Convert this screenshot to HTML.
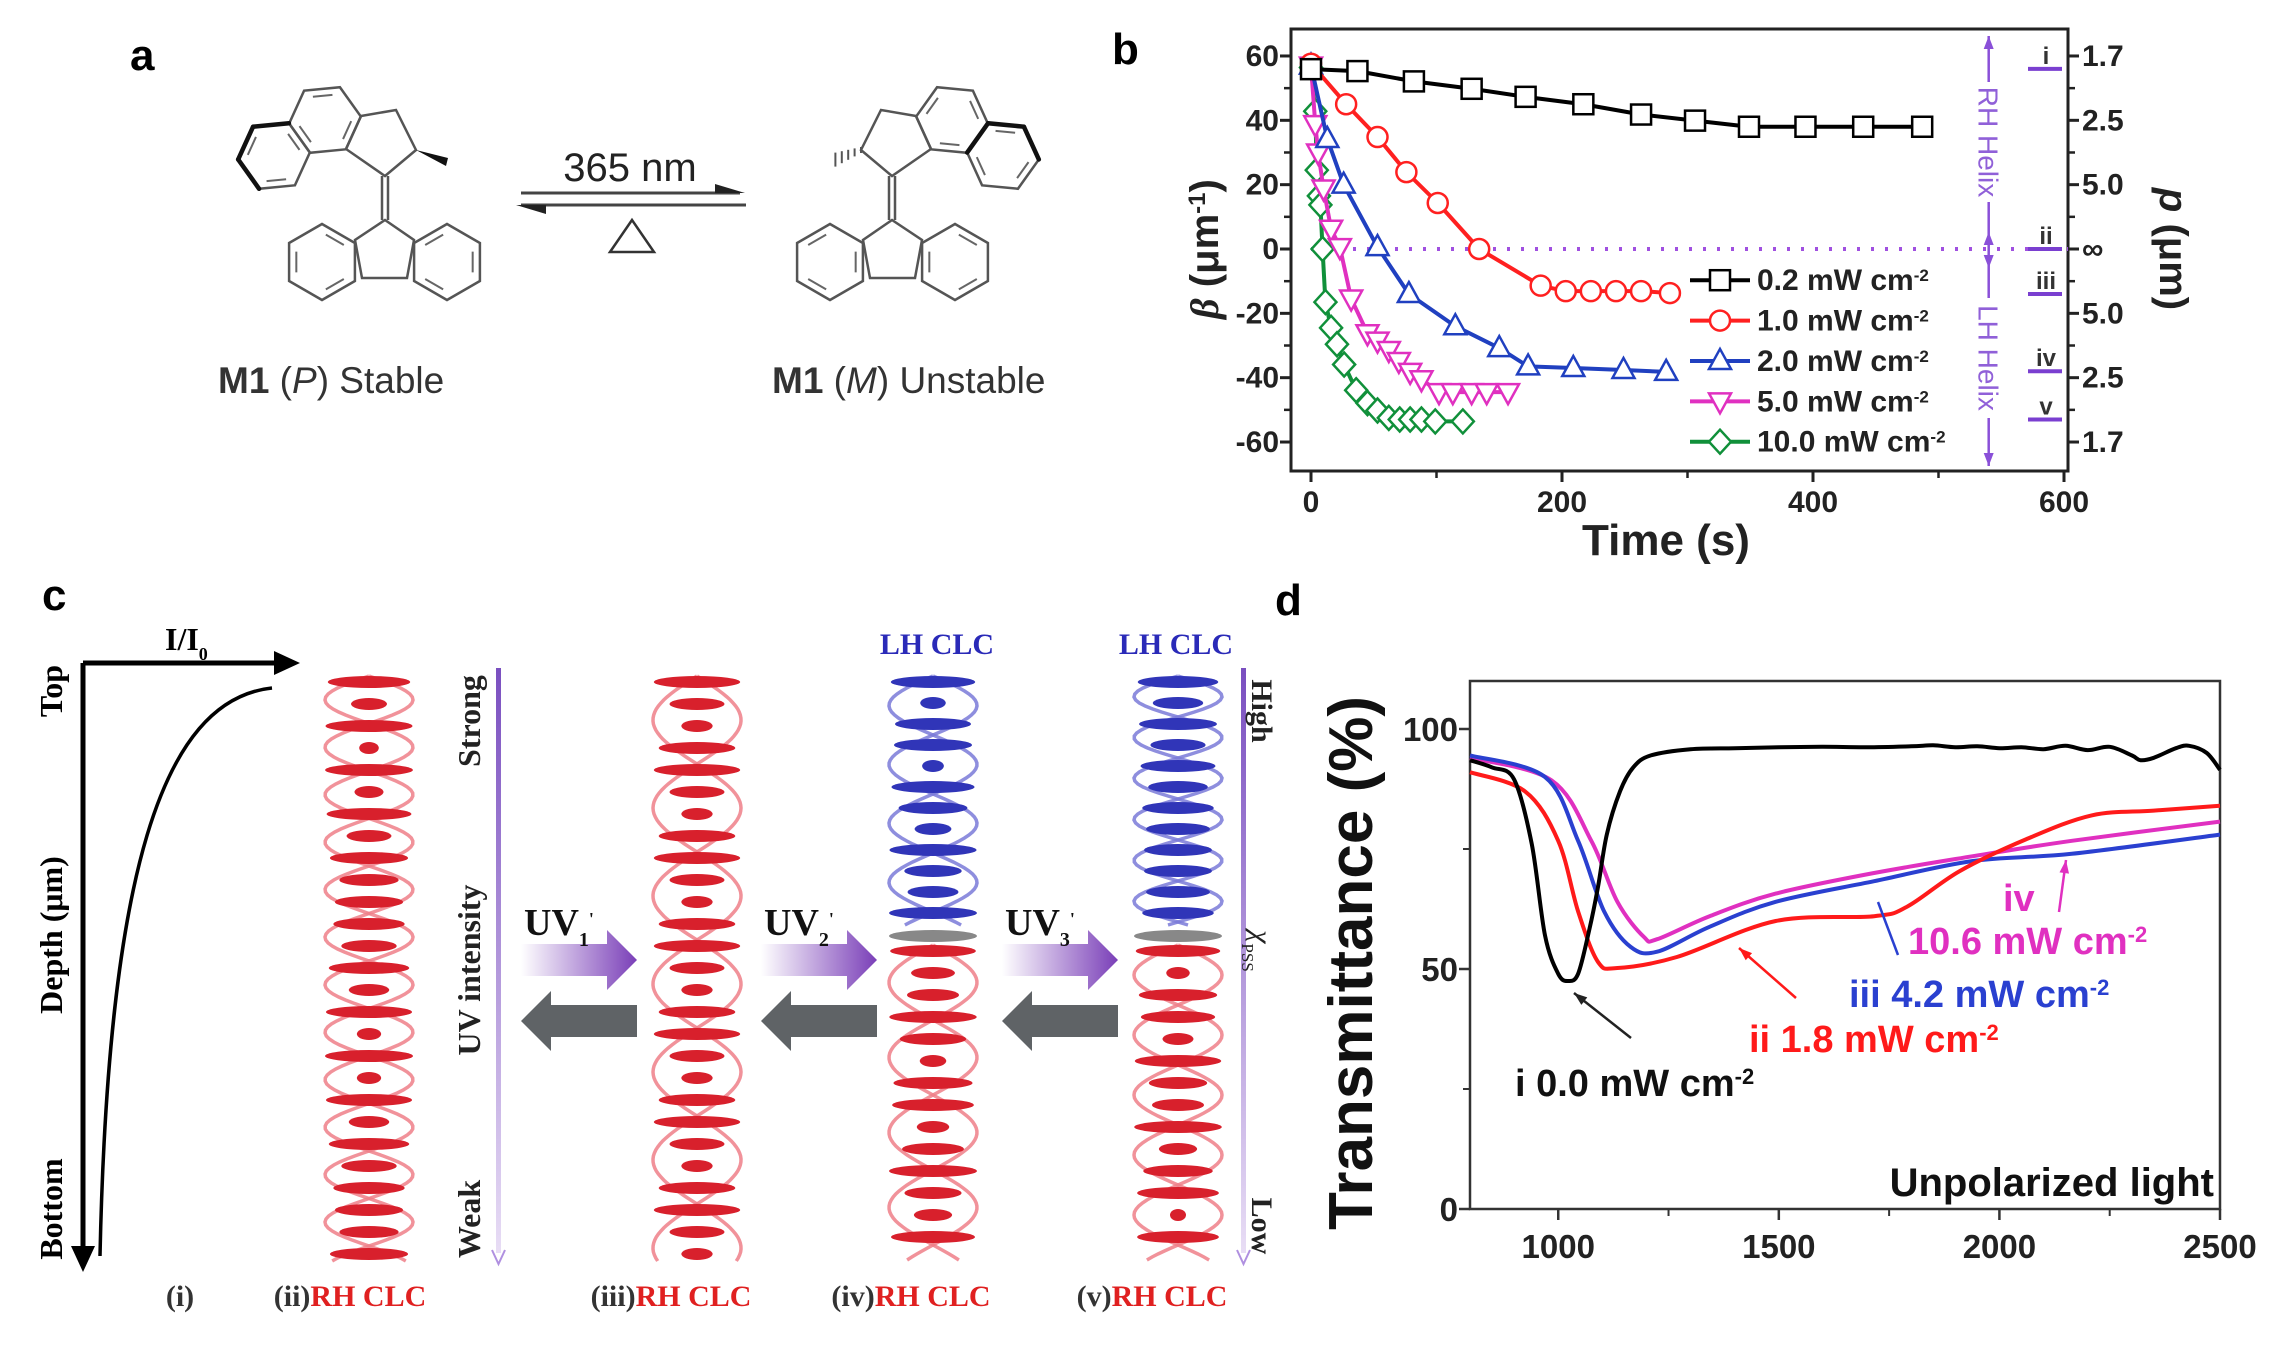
<!DOCTYPE html>
<html><head><meta charset="utf-8">
<style>
html,body{margin:0;padding:0;background:#fff;}
svg{display:block;font-family:"Liberation Sans",sans-serif;}
</style></head>
<body>
<svg id="fig" width="2276" height="1345" viewBox="0 0 2276 1345" xmlns="http://www.w3.org/2000/svg">
<defs>
<linearGradient id="uvgrad" x1="0" x2="1" y1="0" y2="0"><stop offset="0" stop-color="#ffffff"/><stop offset="1" stop-color="#7a3fb8"/></linearGradient>
<linearGradient id="vgrad" x1="0" x2="0" y1="0" y2="1"><stop offset="0" stop-color="#7a4fc0"/><stop offset="1" stop-color="#e8ddf5"/></linearGradient>
</defs>
<text x="130" y="70" font-size="44" font-weight="bold">a</text>
<text x="1112" y="64" font-size="44" font-weight="bold">b</text>
<text x="42" y="610" font-size="44" font-weight="bold">c</text>
<text x="1275" y="615" font-size="44" font-weight="bold">d</text>

<g id="panelA"></g>
<g id="panelB"></g>
<g id="panelC"></g>
<g id="panelD"></g>
</svg>
<script>
// ---------- Panel B data ----------
const bLabels = ["0.2 mW cm","1.0 mW cm","2.0 mW cm","5.0 mW cm","10.0 mW cm"];
const bColors = ["#000000","#ff2020","#2040c0","#e030c0","#10903a"];
const bMarkers = ["square","circle","triangle","tridown","diamond"];
const bT0 = [0,37,82,128,171,217,263,306,349,394,440,487];
const bY0 = [55.9,55.3,52.1,49.8,47.3,45,41.8,39.9,38,38,38,38];
const bT1 = [0,28,53,76,101,134,183,203,223,243,263,286];
const bY1 = [57.6,45,34.8,23.9,14.3,0,-11.4,-13.1,-13.1,-13.1,-13.1,-13.7];
const bT2 = [0,13,26,53,78,115,150,173,209,249,283];
const bY2 = [57,34.2,20,0.6,-14,-24,-30.8,-36.5,-37,-37.6,-38.2];
const bT3 = [0,3.4,5.7,10,16,23,32,45,53,62,70,79,88,102,113,128,140,157];
const bY3 = [57,38.8,30,18.8,6.3,0.6,-15.4,-26.2,-28.5,-31.4,-34.8,-38.2,-40.5,-44.5,-44.5,-44.5,-44.5,-44.5];
const bT4 = [0,3.4,4.6,6.3,7.5,9.2,11.5,16,20.7,26.4,36,45,53,62,70.7,79,88,99,121];
const bY4 = [56.4,42.8,24.5,16.5,13.7,0,-16.5,-24.5,-29.6,-35.9,-43.9,-47.9,-50.2,-52.5,-53,-53,-53,-53.6,-53.6];
const bXTicks = [0,200,400,600];
const bYTicks = [60,40,20,0,-20,-40,-60];
const bRightTicks = ["1.7","2.5","5.0","\u221E","5.0","2.5","1.7"];
const bHelixStates = ["i","ii","iii","iv","v"];
const bHelixValues = [56,0,-14,-38,-53];

// ---------- Panel D data ----------
const dXTicks = [1000,1500,2000,2500];
const dYTicks = [0,50,100];
const dX0 = [800,850,900,940,970,1000,1022,1045,1070,1090,1110,1140,1170,1210,1300,1400,1500,1600,1700,1800,1850,1900,1950,2000,2050,2100,2150,2200,2250,2300,2320,2350,2400,2430,2470,2500];
const dY0 = [93.5,92,89.5,76,57,49,47.5,49,58,67,78,87,92,94.5,95.8,96,96.2,96.3,96.2,96.4,96.6,96.2,96.4,96,96.2,95.8,96.5,95.6,96.3,94.5,93.5,94,96,96.5,95,91.5];
const dX1 = [800,925,1000,1045,1090,1134,1269,1493,1716,1791,1910,2060,2209,2350,2500];
const dY1 = [91,87,76.7,62,51.5,50.2,52.5,60,61,63,70.4,77,82,83,84];
const dX2 = [800,970,1045,1104,1164,1224,1343,1493,1716,1940,2164,2500];
const dY2 = [94.5,90,76.7,62,54.6,53.6,58.8,64,68.3,72.5,74,78];
const dX3 = [800,985,1075,1134,1194,1224,1343,1493,1716,1940,2164,2500];
const dY3 = [94,89.3,76.7,64,56.7,56.2,61,65.7,70,73.5,76.7,80.7];
const dColors = ["#000000","#ff1a1a","#2a40d0","#e030c0"];

const NS="http://www.w3.org/2000/svg";
function mk(parent,tag,attrs,text){const e=document.createElementNS(NS,tag);for(const k in attrs)e.setAttribute(k,attrs[k]);if(text!==undefined)e.textContent=text;parent.appendChild(e);return e;}

// ================= PANEL A =================
(function(){
const g=document.getElementById('panelA');
function hex(cx,cy,r,rot,inner,bold){
  const pts=[];for(let k=0;k<6;k++){const a=(rot+k*60)*Math.PI/180;pts.push([cx+r*Math.cos(a),cy+r*Math.sin(a)]);}
  const p=mk(g,'polygon',{points:pts.map(q=>q.join(',')).join(' '),fill:'none',stroke:'#555',"stroke-width":2.5});
  
  inner.forEach(i=>{const a=pts[i],b=pts[(i+1)%6];const s=0.78;const mx=cx+(a[0]-cx)*s,my=cy+(a[1]-cy)*s,nx=cx+(b[0]-cx)*s,ny=cy+(b[1]-cy)*s;
    mk(g,'line',{x1:mx+(nx-mx)*0.15,y1:my+(ny-my)*0.15,x2:mx+(nx-mx)*0.85,y2:my+(ny-my)*0.85,stroke:'#666',"stroke-width":2});});
  (bold||[]).forEach(i=>{const a=pts[i],b=pts[(i+1)%6];mk(g,'line',{x1:a[0],y1:a[1],x2:b[0],y2:b[1],stroke:'#111',"stroke-width":4.5,"stroke-linecap":"round"});});
}
function molecule(mirror){
  const X=x=>mirror?1277-x:x;
  const rot=mirror?180-54.5:54.5;
  hex(X(325),120,36,rot,[1,3,5]);
  hex(X(274),156,36,rot,[0,2,4],[1,2,3]);
  const pent=[[361,116],[396,110],[416,150],[385,176],[346,149]];
  mk(g,'polygon',{points:pent.map(p=>X(p[0])+','+p[1]).join(' '),fill:'none',stroke:'#555',"stroke-width":2.5});
  if(!mirror){mk(g,'polygon',{points:`416,150 448,158 446,166`,fill:'#111'});}
  else{for(let i=0;i<5;i++){const t=i/5;mk(g,'line',{x1:X(416+32*t),y1:150+12*t-3-i,x2:X(416+32*t),y2:150+12*t+3+i,stroke:'#555',"stroke-width":2});}}
  mk(g,'line',{x1:X(382),y1:176,x2:X(382),y2:220,stroke:'#555',"stroke-width":2.5});
  mk(g,'line',{x1:X(388),y1:176,x2:X(388),y2:220,stroke:'#555',"stroke-width":2.5});
  const f5=[[385,220],[414,240],[407,278],[362,278],[355,240]];
  mk(g,'polygon',{points:f5.map(p=>X(p[0])+','+p[1]).join(' '),fill:'none',stroke:'#555',"stroke-width":2.5});
  hex(X(322),262,38,30,[0,2,4]);
  hex(X(447),262,38,30,[1,3,5]);
}
molecule(false);molecule(true);
mk(g,'line',{x1:521,y1:193,x2:740,y2:193,stroke:'#444',"stroke-width":3});
mk(g,'polygon',{points:'745,193 715,184 715,193',fill:'#222'});
mk(g,'line',{x1:521,y1:205,x2:746,y2:205,stroke:'#444',"stroke-width":3});
mk(g,'polygon',{points:'516,205 546,214 546,205',fill:'#222'});
mk(g,'polygon',{points:'610,252 632,220 654,252',fill:'none',stroke:'#333',"stroke-width":2.5});
const t1=mk(g,'text',{x:630,y:181,"font-size":40,"text-anchor":"middle",fill:'#222'},'365 nm');

const l1=mk(g,'text',{x:218,y:393,"font-size":37,fill:'#333'});
l1.innerHTML='<tspan font-weight="bold">M1</tspan> (<tspan font-style="italic">P</tspan>) Stable';

const l2=mk(g,'text',{x:772,y:393,"font-size":37,fill:'#333'});
l2.innerHTML='<tspan font-weight="bold">M1</tspan> (<tspan font-style="italic">M</tspan>) Unstable';

})();

// ================= PANEL B =================
(function(){
const g=document.getElementById('panelB');
const L=1291,R=2068,T=29,B=471;
const xs=t=>1311+t*(753/600);
const ys=v=>249-v*3.217;
const fr=mk(g,'rect',{x:L,y:T,width:R-L,height:B-T,fill:'none',stroke:'#222',"stroke-width":3});

bXTicks.forEach(v=>{const x=xs(v);mk(g,'line',{x1:x,y1:B,x2:x,y2:B+11,stroke:'#222',"stroke-width":3});
 const t=mk(g,'text',{x:x,y:512,"font-size":30,"font-weight":"bold","text-anchor":"middle",fill:'#222'},String(v));
 });
for(let v=100;v<600;v+=200){const x=xs(v);mk(g,'line',{x1:x,y1:B,x2:x,y2:B+7,stroke:'#222',"stroke-width":2.5});}
bYTicks.forEach((v,i)=>{const y=ys(v);mk(g,'line',{x1:L,y1:y,x2:L-11,y2:y,stroke:'#222',"stroke-width":3});
 mk(g,'line',{x1:R,y1:y,x2:R+11,y2:y,stroke:'#222',"stroke-width":3});
 const t=mk(g,'text',{x:1279,y:y+10,"font-size":30,"font-weight":"bold","text-anchor":"end",fill:'#222'},String(v));
 
 const r=mk(g,'text',{x:2082,y:y+10,"font-size":30,"font-weight":"bold",fill:'#222'},bRightTicks[i]);
 });
for(let v=50;v>-60;v-=20){const y=ys(v);mk(g,'line',{x1:L,y1:y,x2:L-7,y2:y,stroke:'#222',"stroke-width":2.5});mk(g,'line',{x1:R,y1:y,x2:R+7,y2:y,stroke:'#222',"stroke-width":2.5});}
const xt=mk(g,'text',{x:1666,y:555,"font-size":44,"font-weight":"bold","text-anchor":"middle",fill:'#222'},'Time (s)');

const yt=mk(g,'text',{x:0,y:0,"font-size":40,"font-weight":"bold","text-anchor":"middle",fill:'#222',transform:'translate(1218,249) rotate(-90)'});
yt.innerHTML='<tspan font-style="italic" font-family="Liberation Serif">\u03B2</tspan> (\u03BCm<tspan baseline-shift="super" font-size="24">-1</tspan>)';

const rt=mk(g,'text',{x:0,y:0,"font-size":40,"font-weight":"bold","text-anchor":"middle",fill:'#222',transform:'translate(2160,249) rotate(90)'});
rt.innerHTML='<tspan font-style="italic">p</tspan> (\u03BCm)';

mk(g,'line',{x1:xs(0),y1:ys(0),x2:R,y2:ys(0),stroke:'#a050e0',"stroke-width":4,"stroke-dasharray":"3 11"});
const hx=xs(540);
mk(g,'line',{x1:hx,y1:36,x2:hx,y2:466,stroke:'#8a50d8',"stroke-width":2.5});
[[36,-1],[466,1],[232,-1],[268,1]].forEach(a=>{mk(g,'polygon',{points:`${hx-5},${a[0]-a[1]*13} ${hx+5},${a[0]-a[1]*13} ${hx},${a[0]}`,fill:'#8a50d8'});});
mk(g,'rect',{x:hx-14,y:82,width:28,height:120,fill:'#fff'});
mk(g,'rect',{x:hx-14,y:298,width:28,height:120,fill:'#fff'});
const rh=mk(g,'text',{x:0,y:0,"font-size":28,fill:'#9060d8',"text-anchor":"middle",transform:`translate(${hx-10},142) rotate(90)`},'RH Helix');

const lh=mk(g,'text',{x:0,y:0,"font-size":28,fill:'#9060d8',"text-anchor":"middle",transform:`translate(${hx-10},358) rotate(90)`},'LH Helix');

bHelixStates.forEach((s,i)=>{const y=ys(bHelixValues[i]);
 mk(g,'line',{x1:2028,y1:y,x2:2062,y2:y,stroke:'#7a3fd0',"stroke-width":4});
 const t=mk(g,'text',{x:2046,y:y-5,"font-size":24,"font-weight":"bold","text-anchor":"middle",fill:'#333'},s);
 });
function marker(par,type,x,y,c){const s=10;let e;
 if(type==='square')e=mk(par,'rect',{x:x-s,y:y-s,width:2*s,height:2*s,fill:'#fff',stroke:c,"stroke-width":2.5});
 else if(type==='circle')e=mk(par,'circle',{cx:x,cy:y,r:s,fill:'#fff',stroke:c,"stroke-width":2.5});
 else if(type==='triangle')e=mk(par,'polygon',{points:`${x},${y-s-2} ${x+s+1},${y+s-2} ${x-s-1},${y+s-2}`,fill:'#fff',stroke:c,"stroke-width":2.5});
 else if(type==='tridown')e=mk(par,'polygon',{points:`${x},${y+s+2} ${x+s+1},${y-s+2} ${x-s-1},${y-s+2}`,fill:'#fff',stroke:c,"stroke-width":2.5});
 else e=mk(par,'polygon',{points:`${x},${y-s-2} ${x+s+1},${y} ${x},${y+s+2} ${x-s-1},${y}`,fill:'#fff',stroke:c,"stroke-width":2.5});
 return e;}
const TS=[bT0,bT1,bT2,bT3,bT4],YS=[bY0,bY1,bY2,bY3,bY4];
for(let si=4;si>=0;si--){
 const sg=mk(g,'g',{});
 
 
 const pts=TS[si].map((t,i)=>xs(t)+','+ys(YS[si][i])).join(' ');
 mk(sg,'polyline',{points:pts,fill:'none',stroke:bColors[si],"stroke-width":4,"stroke-linejoin":"round"});
 TS[si].forEach((t,i)=>{const m=marker(sg,bMarkers[si],xs(t),ys(YS[si][i]),bColors[si]);
  });
}
bLabels.forEach((lab,i)=>{const y=ys(-9.7-i*12.55);
 const lg=mk(g,'g',{});
 mk(lg,'line',{x1:1690,y1:y,x2:1750,y2:y,stroke:bColors[i],"stroke-width":4});
 marker(lg,bMarkers[i],1720,y,bColors[i]);
 const t=mk(lg,'text',{x:1757,y:y+10,"font-size":30,"font-weight":"bold",fill:'#222'});
 t.innerHTML=lab+'<tspan baseline-shift="super" font-size="17">-2</tspan>';});
})();

// ================= PANEL C =================
(function(){
const g=document.getElementById('panelC');
mk(g,'line',{x1:83,y1:663,x2:280,y2:663,stroke:'#000',"stroke-width":5});
mk(g,'polygon',{points:'300,663 274,651 274,675',fill:'#000'});
mk(g,'line',{x1:83,y1:663,x2:83,y2:1250,stroke:'#000',"stroke-width":5});
mk(g,'polygon',{points:'83,1272 71,1246 95,1246',fill:'#000'});
const cv=mk(g,'path',{d:'M 272 688 C 160 700, 108 880, 100 1256',fill:'none',stroke:'#000',"stroke-width":3.5});

const serif='"Liberation Serif",serif';
function rtext(x,y,s,rot,size,color,name,bold){const t=mk(g,'text',{x:0,y:0,"font-size":size,"font-family":serif,"font-weight":bold===false?'normal':'bold',fill:color,"text-anchor":"middle",transform:`translate(${x},${y}) rotate(${rot})`},s);
 return t;}
const ii=mk(g,'text',{x:165,y:650,"font-size":32,"font-family":serif,"font-weight":"bold"});
ii.innerHTML='I/I<tspan baseline-shift="sub" font-size="18">0</tspan>';
rtext(62,691,'Top',-90,32,'#000','top-label');
rtext(62,935,'Depth (\u03BCm)',-90,32,'#000','depth-axis-label');
rtext(62,1209,'Bottom',-90,32,'#000','bottom-label');
mk(g,'rect',{x:496,y:668,width:5,height:585,fill:'url(#vgrad)'});
mk(g,'polyline',{points:'492,1250 498.5,1264 505,1250',fill:'none',stroke:'#b090e0',"stroke-width":2});
mk(g,'rect',{x:1241,y:668,width:5,height:585,fill:'url(#vgrad)'});
mk(g,'polyline',{points:'1237,1250 1243.5,1264 1250,1250',fill:'none',stroke:'#b090e0',"stroke-width":2});
rtext(480,721,'Strong',-90,32,'#222','strong-label');
rtext(480,970,'UV intensity',-90,32,'#222','uv-intensity-label');
rtext(480,1219,'Weak',-90,32,'#222','weak-label');
rtext(1252,711,'High',90,30,'#222','high-label');
const chi=mk(g,'text',{x:0,y:0,"font-size":30,"font-family":serif,"font-style":"italic",fill:'#222',"text-anchor":"middle",transform:'translate(1252,951) rotate(90)'});
chi.innerHTML='\u03C7<tspan baseline-shift="sub" font-size="17" font-style="normal">PSS</tspan>';

rtext(1252,1226,'Low',90,30,'#222','low-label');
function helix(cx,segs,name){
 const hg=mk(g,'g',{});
 segs.forEach(s=>{
  const rib=s.blue?'#7a7ad8':'#ee7f88',rod=s.blue?'#3035b8':'#d8202c';
  for(const ph of [0,Math.PI]){let d='';for(let y=s.y0;y<=s.y1;y+=3){const x=cx+44*Math.sin(2*Math.PI*(y-s.y0)/s.p+ph);d+=(d?'L':'M')+x.toFixed(1)+' '+y+' ';}
   mk(hg,'path',{d:d,fill:'none',stroke:rib,"stroke-width":3.5,opacity:0.85});}
  for(let y=s.y0+6;y<=s.y1-4;y+=s.step){const w=8+36*Math.abs(Math.cos(2*Math.PI*(y-s.y0)/s.p));
   mk(hg,'ellipse',{cx:cx,cy:y,rx:w,ry:6,fill:rod});}
 });
 return hg;}
helix(369,[{y0:676,y1:1262,p:95,step:22,blue:false}],'helix-ii-rh');
helix(697,[{y0:676,y1:1262,p:176,step:22,blue:false}],'helix-iii-rh');
helix(933,[{y0:676,y1:925,p:118,step:21,blue:true},{y0:945,y1:1262,p:150,step:22,blue:false}],'helix-iv-mixed');
helix(1178,[{y0:676,y1:925,p:82,step:21,blue:true},{y0:945,y1:1262,p:120,step:22,blue:false}],'helix-v-mixed');
[933,1178].forEach(x=>mk(g,'ellipse',{cx:x,cy:936,rx:44,ry:6,fill:'#888'}));
[[521,'UV1'],[761,'UV2'],[1002,'UV3']].forEach((a,i)=>{const x=a[0];
 const ag=mk(g,'g',{});
 mk(ag,'polygon',{points:`${x},${944} ${x+86},944 ${x+86},930 ${x+116},960 ${x+86},990 ${x+86},976 ${x},976`,fill:'url(#uvgrad)'});
 const bg=mk(g,'polygon',{points:`${x+116},${1005} ${x+30},1005 ${x+30},991 ${x},1021 ${x+30},1051 ${x+30},1037 ${x+116},1037`,fill:'#5f6366'});
 
 const t=mk(g,'text',{x:x+3,y:935,"font-size":38,"font-family":serif,"font-weight":"bold",fill:'#111'});
 t.innerHTML='UV<tspan baseline-shift="sub" font-size="20">'+(i+1)+'</tspan><tspan baseline-shift="super" font-size="18">\'</tspan>';
 });
[[937,'LH CLC'],[1176,'LH CLC']].forEach(a=>{const t=mk(g,'text',{x:a[0],y:654,"font-size":30,"font-family":serif,"font-weight":"bold",fill:'#2a2ab8',"text-anchor":"middle"},a[1]);
 });
const bl=[[180,'(i)',''],[350,'(ii)','RH CLC'],[671,'(iii)','RH CLC'],[911,'(iv)','RH CLC'],[1152,'(v)','RH CLC']];
bl.forEach(a=>{const t=mk(g,'text',{x:a[0],y:1306,"font-size":30,"font-family":serif,"font-weight":"bold","text-anchor":"middle",fill:'#333'});
 t.innerHTML=a[1]+'<tspan fill="#e02020">'+a[2]+'</tspan>';
 });
})();

// ================= PANEL D =================
(function(){
const g=document.getElementById('panelD');
const L=1470,R=2220,T=681,B=1209;
const xs=v=>L+(v-800)*(R-L)/1700;
const ys=v=>B-v*(B-T)/110;
const fr=mk(g,'rect',{x:L,y:T,width:R-L,height:B-T,fill:'none',stroke:'#333',"stroke-width":2.5});

dXTicks.forEach(v=>{const x=xs(v);mk(g,'line',{x1:x,y1:B,x2:x,y2:B+11,stroke:'#333',"stroke-width":2.5});
 const t=mk(g,'text',{x:x,y:1258,"font-size":33,"font-weight":"bold","text-anchor":"middle",fill:'#222'},String(v));
 });
[1250,1750,2250].forEach(v=>mk(g,'line',{x1:xs(v),y1:B,x2:xs(v),y2:B+7,stroke:'#333',"stroke-width":2}));
dYTicks.forEach(v=>{const y=ys(v);mk(g,'line',{x1:L,y1:y,x2:L-11,y2:y,stroke:'#333',"stroke-width":2.5});
 const t=mk(g,'text',{x:1458,y:y+12,"font-size":33,"font-weight":"bold","text-anchor":"end",fill:'#222'},String(v));
 });
[25,75].forEach(v=>mk(g,'line',{x1:L,y1:ys(v),x2:L-7,y2:ys(v),stroke:'#333',"stroke-width":2}));
const yt=mk(g,'text',{x:0,y:0,"font-size":62,"font-weight":"bold","text-anchor":"middle",fill:'#111',transform:'translate(1372,963) rotate(-90)'},'Transmittance (%)');

const XS=[dX0,dX1,dX2,dX3],YS=[dY0,dY1,dY2,dY3];
const names=['curve-i-0-0-mw','curve-ii-1-8-mw','curve-iii-4-2-mw','curve-iv-10-6-mw'];
[3,2,1,0].forEach(si=>{
 const pts=XS[si].map((x,i)=>[xs(x),ys(YS[si][i])]);
 let d='M'+pts[0][0]+' '+pts[0][1];
 for(let i=0;i<pts.length-1;i++){const p0=pts[Math.max(0,i-1)],p1=pts[i],p2=pts[i+1],p3=pts[Math.min(pts.length-1,i+2)];
  const c1=[p1[0]+(p2[0]-p0[0])/6,p1[1]+(p2[1]-p0[1])/6],c2=[p2[0]-(p3[0]-p1[0])/6,p2[1]-(p3[1]-p1[1])/6];
  d+=` C${c1[0].toFixed(1)} ${c1[1].toFixed(1)},${c2[0].toFixed(1)} ${c2[1].toFixed(1)},${p2[0].toFixed(1)} ${p2[1].toFixed(1)}`;}
 const p=mk(g,'path',{d:d,fill:'none',stroke:dColors[si],"stroke-width":4,"stroke-linejoin":"round"});
 
});
function arrow(x1,y1,x2,y2,c){mk(g,'line',{x1:x1,y1:y1,x2:x2,y2:y2,stroke:c,"stroke-width":2.5});
 const a=Math.atan2(y2-y1,x2-x1),s=14;mk(g,'polygon',{points:`${x2},${y2} ${x2-s*Math.cos(a-0.35)},${y2-s*Math.sin(a-0.35)} ${x2-s*Math.cos(a+0.35)},${y2-s*Math.sin(a+0.35)}`,fill:c});}
arrow(1631,1038,1574,993,'#222');
arrow(1796,998,1739,948,'#ff1a1a');
mk(g,'line',{x1:1898,y1:955,x2:1878,y2:902,stroke:'#2a40d0',"stroke-width":2.5});
arrow(2059,912,2066,860,'#e030c0');
function lab(x,y,c,txt,name){const t=mk(g,'text',{x:x,y:y,"font-size":38,"font-weight":"bold",fill:c});
 t.innerHTML=txt+' mW cm<tspan baseline-shift="super" font-size="22">-2</tspan>';}
lab(1515,1096,'#111','i 0.0','label-i');
lab(1749,1052,'#ff1a1a','ii 1.8','label-ii');
lab(1849,1007,'#2a40d0','iii 4.2','label-iii');
lab(1908,954,'#e030c0','10.6','label-iv-value');
const iv=mk(g,'text',{x:2003,y:911,"font-size":38,"font-weight":"bold",fill:'#e030c0'},'iv');

const up=mk(g,'text',{x:2214,y:1196,"font-size":40,"font-weight":"bold","text-anchor":"end",fill:'#111'},'Unpolarized light');

})();
</script>
</body></html>
